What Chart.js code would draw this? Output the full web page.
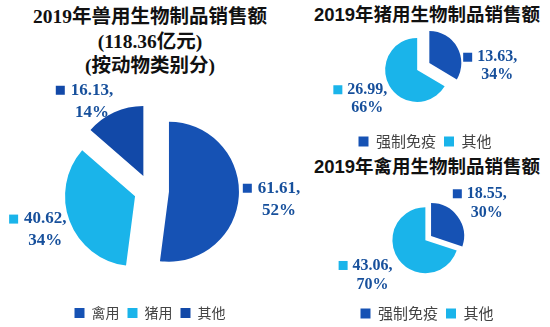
<!DOCTYPE html>
<html>
<head>
<meta charset="utf-8">
<script src="https://cdn.jsdelivr.net/npm/chart.js@4.4.1/dist/chart.umd.min.js"></script>
<style>
body{margin:0;background:#fff;width:550px;height:327px;position:relative;overflow:hidden}
canvas{position:absolute}
.title{position:absolute;text-align:center;white-space:nowrap;color:#111;font-weight:bold}
</style>
</head>
<body>
<div class="title" style="left:0;width:300px;top:5px;font:bold 19.5px/24.5px 'Liberation Serif','Noto Sans CJK SC',serif">2019年兽用生物制品销售额<br>(118.36亿元)<br>(按动物类别分)</div>
<div class="title" style="left:300px;width:254px;top:2px;font:bold 18.5px/26px 'Liberation Sans','Noto Sans CJK SC',sans-serif">2019年猪用生物制品销售额</div>
<div class="title" style="left:300px;width:254px;top:154px;font:bold 18.5px/26px 'Liberation Sans','Noto Sans CJK SC',sans-serif">2019年禽用生物制品销售额</div>
<canvas id="big" width="300" height="252" style="left:0;top:78px"></canvas>
<canvas id="pig" width="250" height="159" style="left:300px;top:0"></canvas>
<canvas id="poultry" width="250" height="151" style="left:302px;top:180px"></canvas>
<script>
// 2019 兽用生物制品销售额 (亿元)
const bigLabels = ['禽用', '猪用', '其他'];
const bigValues = [61.61, 40.62, 16.13];
const pigLabels = ['强制免疫', '其他'];
const pigValues = [13.63, 26.99];
const poultryLabels = ['强制免疫', '其他'];
const poultryValues = [18.55, 43.06];

const DARK = '#1652b4';
const CYAN = '#1ab4ea';
const DARK2 = '#1249a8';

// pulls slices out and writes "value,\npercent" next to each one
const pieExtras = {
  id: 'pieExtras',
  afterDatasetsUpdate(chart, args, opts) {
    const arcs = chart.getDatasetMeta(0).data;
    arcs.forEach((arc, i) => {
      const mid = (arc.startAngle + arc.endAngle) / 2;
      const d = opts.explode[i] || 0;
      arc.x += Math.cos(mid) * d;
      arc.y += Math.sin(mid) * d;
    });
  },
  afterDatasetsDraw(chart, args, opts) {
    const ctx = chart.ctx;
    const ds = chart.data.datasets[0];
    const total = ds.data.reduce((a, b) => a + b, 0);
    const arcs = chart.getDatasetMeta(0).data;
    ctx.save();
    ctx.font = opts.font;
    ctx.textBaseline = 'middle';
    arcs.forEach((arc, i) => {
      const mid = (arc.startAngle + arc.endAngle) / 2;
      const px = arc.x + Math.cos(mid) * arc.outerRadius;
      const py = arc.y + Math.sin(mid) * arc.outerRadius;
      const dx = opts.offsets[i][0], dy = opts.offsets[i][1];
      const line1 = ds.data[i].toFixed(2) + ',';
      const line2 = Math.round(ds.data[i] / total * 100) + '%';
      const w1 = ctx.measureText(line1).width;
      let tx;
      if (Math.cos(mid) >= 0) tx = px + dx + opts.box + opts.gap;
      else tx = px + dx - w1;
      const y1 = py + dy;
      ctx.fillStyle = ds.backgroundColor[i];
      ctx.fillRect(tx - opts.gap - opts.box, y1 - opts.box / 2, opts.box, opts.box);
      ctx.fillStyle = opts.color;
      ctx.textAlign = 'left';
      ctx.fillText(line1, tx, y1);
      ctx.textAlign = 'center';
      ctx.fillText(line2, tx + w1 / 2, y1 + opts.lineGap);
    });
    ctx.restore();
  }
};

function makePie(id, labels, values, colors, opt) {
  return new Chart(document.getElementById(id), {
    type: 'pie',
    data: {
      labels: labels,
      datasets: [{
        data: values,
        backgroundColor: colors,
        borderWidth: 0,
        radius: opt.radius,
        clip: false
      }]
    },
    options: {
      responsive: false,
      animation: false,
      events: [],
      layout: { padding: opt.padding },
      plugins: {
        tooltip: { enabled: false },
        legend: {
          position: 'bottom',
          labels: {
            boxWidth: 10,
            boxHeight: 10,
            padding: 8,
            color: '#444',
            font: { family: "'Noto Sans CJK SC', sans-serif", size: opt.legendSize }
          }
        },
        pieExtras: {
          explode: opt.explode,
          offsets: opt.offsets,
          font: opt.labelFont,
          color: '#17509c',
          box: 9,
          gap: opt.gap,
          lineGap: opt.lineGap
        }
      }
    },
    plugins: [pieExtras]
  });
}

makePie('big', bigLabels, bigValues, [DARK, CYAN, DARK2], {
  radius: 70,
  padding: { top: 5 },
  legendSize: 14,
  explode: [19, 16, 16],
  offsets: [[4, -8], [-3, -2], [-1, -22]],
  labelFont: "bold 17px 'Liberation Serif', serif",
  gap: 6,
  lineGap: 22
});

makePie('pig', pigLabels, pigValues, [DARK, CYAN], {
  radius: 32,
  padding: { top: 5 },
  legendSize: 15,
  explode: [5, 9],
  offsets: [[6, 10], [-2, 4]],
  labelFont: "bold 16px 'Liberation Serif', serif",
  gap: 5,
  lineGap: 18
});

makePie('poultry', poultryLabels, poultryValues, [DARK, CYAN], {
  radius: 33,
  padding: { top: 0 },
  legendSize: 15,
  explode: [5, 2],
  offsets: [[-5, -23], [-6, 6]],
  labelFont: "bold 16px 'Liberation Serif', serif",
  gap: 5,
  lineGap: 19
});
</script>
</body>
</html>
